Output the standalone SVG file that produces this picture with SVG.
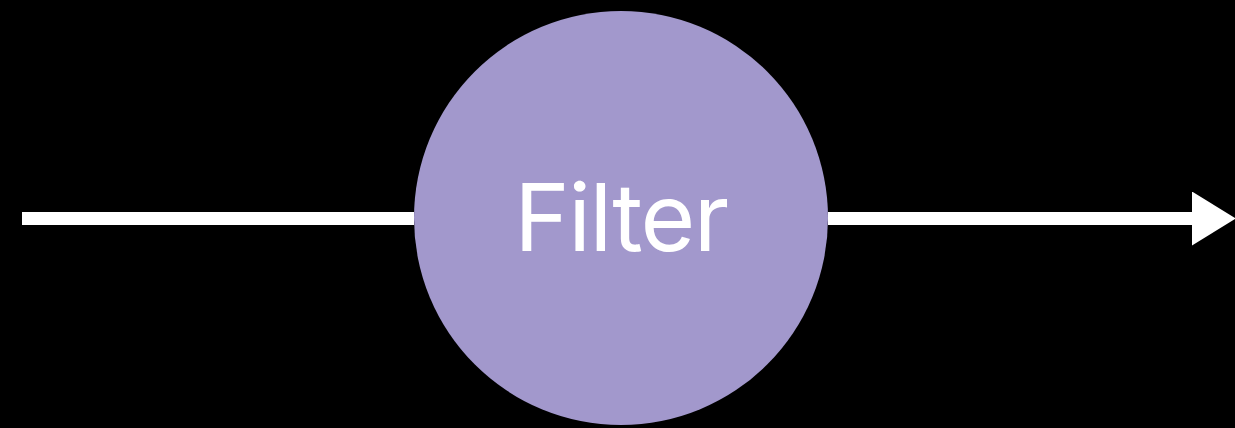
<svg xmlns="http://www.w3.org/2000/svg" width="1235" height="428" viewBox="0 0 1235 428">
<style>
.edge{stroke:#fff;stroke-width:13;fill:none}
.label{font-family:Inter,"Liberation Sans",sans-serif;font-size:94px;letter-spacing:-1.5px;fill:#fff}
</style>
<defs>
<marker id="ah" markerUnits="userSpaceOnUse" markerWidth="44" markerHeight="54" refX="0" refY="27" orient="auto">
<path d="M0,0 L44,27 L0,54 Z" fill="#fff"/>
</marker>
</defs>
<rect width="1235" height="428" fill="#000"/>
<g id="connectors">
<line class="edge" x1="22" y1="218.5" x2="414" y2="218.5"/>
<line class="edge" x1="828" y1="218.5" x2="1192" y2="218.5" marker-end="url(#ah)"/>
</g>
<g id="filter">
<circle cx="621" cy="218" r="207" fill="#a298cc"/>
<text class="label" x="621" y="251" text-anchor="middle">Filter</text>
</g>
</svg>
